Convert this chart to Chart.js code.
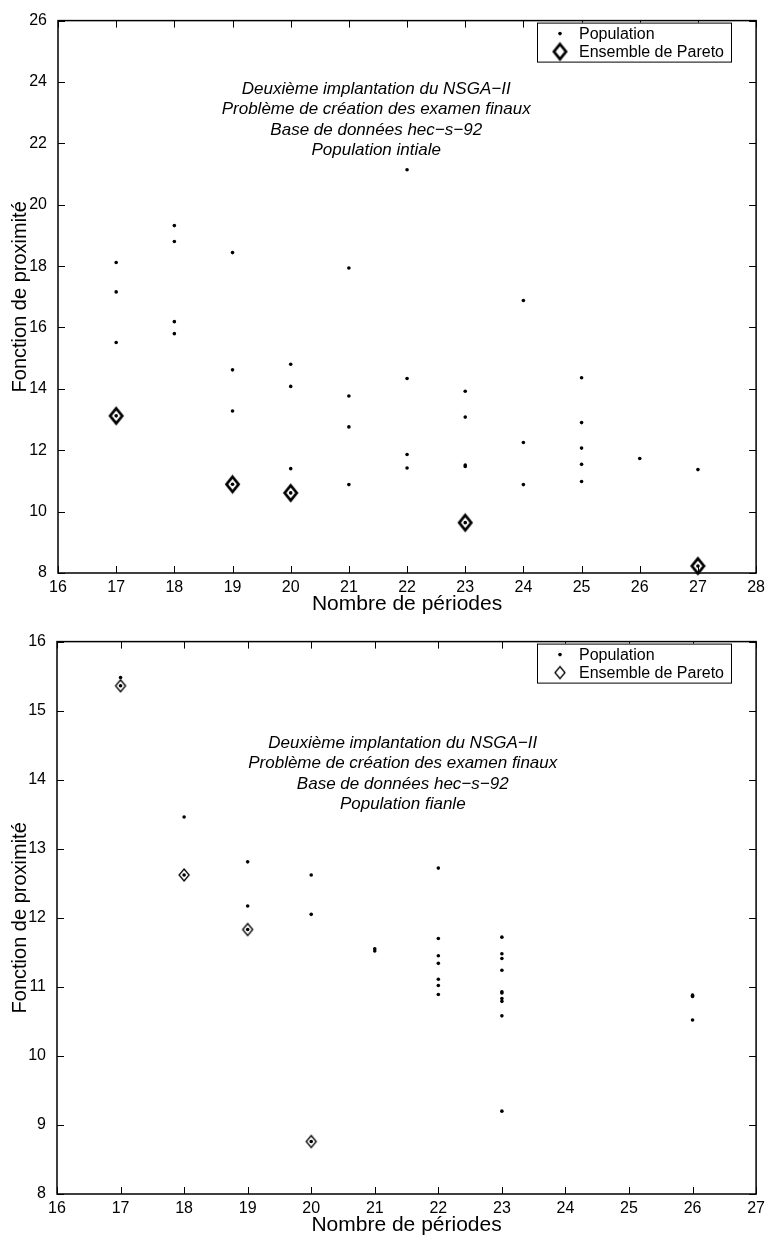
<!DOCTYPE html>
<html>
<head>
<meta charset="utf-8">
<script src="https://cdn.jsdelivr.net/npm/chart.js@4.4.1/dist/chart.umd.min.js"></script>
<style>
  body { margin: 0; background: #fff; }
  canvas { display: block; }
</style>
</head>
<body>
<canvas id="initchart" width="770" height="621"></canvas>
<canvas id="finalchart" width="770" height="621"></canvas>
<script>
// population initiale
const initPopX = [17, 17, 17, 17, 18, 18, 18, 18, 19, 19, 19, 19, 20, 20, 20, 20,
  21, 21, 21, 21, 22, 22, 22, 22, 23, 23, 23, 23, 23, 24, 24, 24,
  25, 25, 25, 25, 25, 26, 27, 27];
const initPopY = [18.12, 17.16, 15.51, 13.12, 19.32, 18.80, 16.19, 15.80, 18.44, 14.62, 13.28, 10.89,
  14.80, 14.08, 11.40, 10.61, 17.94, 13.77, 12.76, 10.88, 21.14, 14.34, 11.86, 11.42,
  13.92, 13.08, 11.52, 11.47, 9.64, 16.88, 12.25, 10.88, 14.36, 12.90, 12.07, 11.54, 10.98,
  11.73, 11.37, 8.23];
const initParetoX = [17, 19, 20, 23, 27];
const initParetoY = [13.12, 10.89, 10.61, 9.64, 8.23];

// population finale
const finalPopX = [17, 17, 18, 18, 19, 19, 19, 20, 20, 20, 21, 21,
  22, 22, 22, 22, 22, 22, 22, 23, 23, 23, 23, 23, 23, 23, 23, 23, 23, 26, 26, 26];
const finalPopY = [15.48, 15.36, 13.46, 12.62, 12.81, 12.17, 11.83, 12.62, 12.05, 8.76, 11.55, 11.52,
  12.72, 11.70, 11.45, 11.34, 11.11, 11.02, 10.89,
  11.72, 11.48, 11.41, 11.24, 10.93, 10.91, 10.83, 10.79, 10.58, 9.20,
  10.88, 10.86, 10.52];
const finalParetoX = [17, 18, 19, 20];
const finalParetoY = [15.36, 12.62, 11.83, 8.76];

const initTicksY = { min: 8, max: 26, step: 2 };
const finalTicksY = { min: 8, max: 16, step: 1 };

const initNote = ['Deuxième implantation du NSGA\u2212II', 'Problème de création des examen finaux',
  'Base de données hec\u2212s\u221292', 'Population intiale'];
const finalNote = ['Deuxième implantation du NSGA\u2212II', 'Problème de création des examen finaux',
  'Base de données hec\u2212s\u221292', 'Population fianle'];

const FONT = '"Liberation Sans", Arial, Helvetica, sans-serif';

function makeDiamond(w, h, lw) {
  var c = document.createElement('canvas');
  c.width = Math.ceil(w + lw * 2) + 1;
  c.height = Math.ceil(h + lw * 2) + 1;
  var g = c.getContext('2d');
  var cx = c.width / 2, cy = c.height / 2;
  g.beginPath();
  g.moveTo(cx, cy - h / 2);
  g.lineTo(cx + w / 2, cy);
  g.lineTo(cx, cy + h / 2);
  g.lineTo(cx - w / 2, cy);
  g.closePath();
  g.fillStyle = '#fff';
  g.fill();
  g.lineWidth = lw;
  g.strokeStyle = '#000';
  g.stroke();
  return c;
}

function toPoints(xs, ys) {
  return xs.map(function(x, i) { return { x: x, y: ys[i] }; });
}

// cadre, petites graduations vers l'intérieur, texte et légende
const matlabLook = {
  id: 'matlabLook',
  afterDraw: function(chart, args, opts) {
    var ctx = chart.ctx;
    var area = chart.chartArea;
    var xs = chart.scales.x, ys = chart.scales.y;
    ctx.save();
    ctx.strokeStyle = '#000';
    ctx.lineWidth = 1;
    ctx.beginPath();
    xs.ticks.forEach(function(t) {
      var px = Math.round(xs.getPixelForValue(t.value)) + 0.5;
      ctx.moveTo(px, area.bottom); ctx.lineTo(px, area.bottom - 7);
      ctx.moveTo(px, area.top); ctx.lineTo(px, area.top + 7);
    });
    ys.ticks.forEach(function(t) {
      var py = Math.round(ys.getPixelForValue(t.value)) + 0.5;
      ctx.moveTo(area.left, py); ctx.lineTo(area.left + 7, py);
      ctx.moveTo(area.right, py); ctx.lineTo(area.right - 7, py);
    });
    ctx.stroke();
    ctx.lineWidth = 1.5;
    ctx.strokeRect(area.left, area.top, area.right - area.left, area.bottom - area.top);

    ctx.fillStyle = '#000';
    ctx.font = 'italic 17px ' + FONT;
    ctx.textAlign = 'center';
    ctx.textBaseline = 'middle';
    var ax = xs.getPixelForValue(opts.noteX);
    var ay = ys.getPixelForValue(opts.noteY);
    opts.note.forEach(function(line, i) { ctx.fillText(line, ax, ay + i * 20.5); });

    // légende
    var bx = opts.legendLeft, by = area.top + 2, bw = 194, bh = 39;
    ctx.fillStyle = '#fff';
    ctx.fillRect(bx, by, bw, bh);
    ctx.lineWidth = 1;
    ctx.strokeRect(bx + 0.5, by + 0.5, bw, bh);
    ctx.font = '16px ' + FONT;
    ctx.textAlign = 'left';
    chart.data.datasets.forEach(function(ds, i) {
      var ry = by + 11 + i * 18;
      ctx.fillStyle = '#000';
      ctx.strokeStyle = '#000';
      Chart.helpers.drawPoint(ctx, {
        pointStyle: ds.pointStyle,
        radius: ds.pointRadius,
        borderWidth: 0,
        rotation: 0
      }, bx + 23, ry);
      ctx.fillStyle = '#000';
      ctx.fillText(ds.label, bx + 42, ry + 1);
    });
    ctx.restore();
  }
};

function buildChart(id, cfg) {
  return new Chart(document.getElementById(id), {
    type: 'scatter',
    data: {
      datasets: [
        {
          label: 'Population',
          data: cfg.pop,
          pointStyle: 'circle',
          pointRadius: 1.8,
          backgroundColor: '#000',
          borderColor: '#000',
          borderWidth: 0,
          clip: false
        },
        {
          label: 'Ensemble de Pareto',
          data: cfg.pareto,
          pointStyle: cfg.diamond,
          pointRadius: 8,
          backgroundColor: '#fff',
          borderColor: '#000',
          clip: false
        }
      ]
    },
    options: {
      responsive: false,
      animation: false,
      events: [],
      layout: { padding: { top: cfg.top, right: cfg.right, left: 0, bottom: 0 } },
      plugins: {
        legend: { display: false },
        tooltip: { enabled: false },
        matlabLook: {
          note: cfg.note,
          noteX: cfg.noteX,
          noteY: cfg.noteY,
          legendLeft: 537
        }
      },
      scales: {
        x: {
          type: 'linear',
          min: 16,
          max: cfg.xMax,
          ticks: { stepSize: 1, padding: 5, color: '#000', font: { size: 16, family: FONT } },
          grid: { display: false, drawTicks: false },
          border: { display: false },
          title: {
            display: true,
            text: 'Nombre de périodes',
            color: '#000',
            font: { size: 21, family: FONT },
            padding: { top: 0, bottom: 4 }
          },
          afterFit: function(s) { s.height = 48; }
        },
        y: {
          type: 'linear',
          min: cfg.yTicks.min,
          max: cfg.yTicks.max,
          ticks: { stepSize: cfg.yTicks.step, padding: 11, color: '#000', font: { size: 16, family: FONT } },
          grid: { display: false, drawTicks: false },
          border: { display: false },
          title: {
            display: true,
            text: 'Fonction de proximité',
            color: '#000',
            font: { size: 20, family: FONT },
            padding: { top: 8, bottom: 8 }
          },
          afterFit: function(s) { s.width = cfg.left; }
        }
      }
    },
    plugins: [matlabLook]
  });
}

buildChart('initchart', {
  pop: toPoints(initPopX, initPopY),
  pareto: toPoints(initParetoX, initParetoY),
  diamond: makeDiamond(12, 15, 2.8),
  note: initNote,
  noteX: 21.47,
  noteY: 23.77,
  xMax: 28,
  yTicks: initTicksY,
  top: 19,
  right: 10,
  left: 58
});

buildChart('finalchart', {
  pop: toPoints(finalPopX, finalPopY),
  pareto: toPoints(finalParetoX, finalParetoY),
  diamond: makeDiamond(10, 12, 1.3),
  note: finalNote,
  noteX: 21.44,
  noteY: 14.53,
  xMax: 27,
  yTicks: finalTicksY,
  top: 18,
  right: 11,
  left: 57
});
</script>
</body>
</html>
